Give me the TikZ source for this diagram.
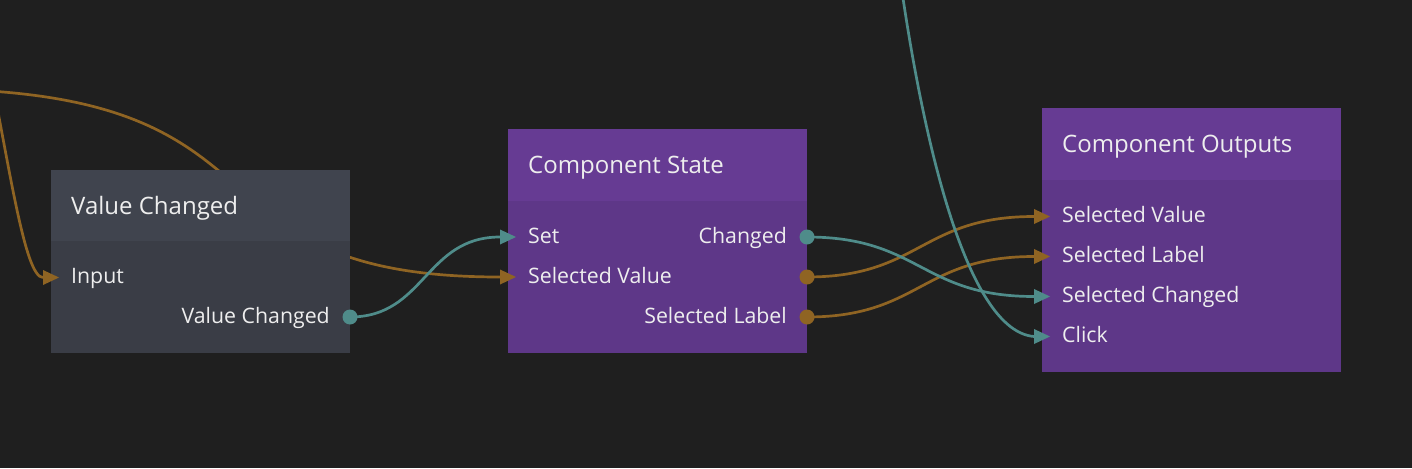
\documentclass[tikz,border=0pt]{standalone}
\usepackage{fontspec}
\setmainfont{Open Sans}
\usetikzlibrary{calc}
\definecolor{bgc}{HTML}{1F1F1F}
\definecolor{grayhead}{HTML}{40444E}
\definecolor{graybody}{HTML}{3A3D46}
\definecolor{purphead}{HTML}{663B93}
\definecolor{purpbody}{HTML}{5E3788}
\definecolor{orangec}{HTML}{8F6423}
\definecolor{tealc}{HTML}{4F8C8A}
\definecolor{txtc}{HTML}{EEEEEE}
\begin{document}
\begin{tikzpicture}[x=1pt,y=-1pt,
  wire/.style={line width=2.7pt},
  box/.style={inner sep=0pt, outer sep=0pt, anchor=north west, minimum width=299pt},
  title/.style={inner sep=0pt, anchor=base west, text=txtc, font=\fontsize{24}{29}\selectfont},
  lbl/.style={inner sep=0pt, anchor=base west, text=txtc, font=\fontsize{21.3}{25}\selectfont},
  rlbl/.style={lbl, anchor=base east},
  portdot/.style={circle, inner sep=0pt, minimum size=15pt},
  inarrow/.pic={\fill (-8,-7.5) -- (8,0) -- (-8,7.5) -- cycle;}
]
\fill[bgc] (0,0) rectangle (1412,468);
\useasboundingbox (0,0) rectangle (1412,468);

% port coordinates
\coordinate (src1) at (-75,89);
\coordinate (src2) at (-12,60);
\coordinate (src3) at (895,-60);
\coordinate (vcin) at (43,277.5);
\coordinate (vcout) at (350,317);
\coordinate (csset) at (500,237);
\coordinate (cssv) at (500,277);
\coordinate (cschanged) at (807,237);
\coordinate (cssvo) at (807,277);
\coordinate (cssl) at (807,317);
\coordinate (cosv) at (1034,216.5);
\coordinate (cosl) at (1034,256.5);
\coordinate (cosc) at (1034,296.5);
\coordinate (coclick) at (1034,336.5);

% connectors
\draw[wire, orangec] (src1) .. controls +(385,0) and +(-330,0) .. (cssv);
\draw[wire, orangec] (src2) .. controls +(22,110) and +(-18,0) .. (vcin);
\draw[wire, tealc] (vcout) .. controls +(75,0) and +(-75,0) .. (csset);
\draw[wire, orangec] (cssvo) .. controls +(113,0) and +(-113,0) .. (cosv);
\draw[wire, orangec] (cssl) .. controls +(113,0) and +(-113,0) .. (cosl);
\draw[wire, tealc] (cschanged) .. controls +(113,0) and +(-113,0) .. (cosc);
\draw[wire, tealc] (src3) .. controls +(20,160) and +(-74,-6) .. (coclick);

% Value Changed
\node[box, fill=graybody, minimum height=183pt] (vc) at (51,170) {};
\node[box, fill=grayhead, minimum height=71pt] (vch) at (51,170) {};
\node[title] (vct) at (71,214) {Value Changed};
\node[lbl] (vcl1) at (71,283) {Input};
\node[rlbl] (vcl2) at (330,323) {Value Changed};

% Component State
\node[box, fill=purpbody, minimum height=224pt] (cs) at (508,129) {};
\node[box, fill=purphead, minimum height=72pt] (csh) at (508,129) {};
\node[title] (cst) at (528,173) {Component State};
\node[lbl] (csl1) at (528,243) {Set};
\node[lbl] (csl2) at (528,283) {Selected Value};
\node[rlbl] (csl3) at (787,243) {Changed};
\node[rlbl] (csl4) at (787,323) {Selected Label};

% Component Outputs
\node[box, fill=purpbody, minimum height=264pt] (co) at (1042,108) {};
\node[box, fill=purphead, minimum height=72pt] (coh) at (1042,108) {};
\node[title] (cot) at (1062,152.5) {Component Outputs};
\node[lbl] (col1) at (1062,222.5) {Selected Value};
\node[lbl] (col2) at (1062,262.5) {Selected Label};
\node[lbl] (col3) at (1062,302.5) {Selected Changed};
\node[lbl] (col4) at (1062,342.5) {Click};

% arrows
\pic[color=orangec] at ($(vcin)+(8,0)$) {inarrow};
\pic[color=tealc] at ($(csset)+(8,0)$) {inarrow};
\pic[color=orangec] at ($(cssv)+(8,0)$) {inarrow};
\pic[color=orangec] at ($(cosv)+(8,0)$) {inarrow};
\pic[color=orangec] at ($(cosl)+(8,0)$) {inarrow};
\pic[color=tealc] at ($(cosc)+(8,0)$) {inarrow};
\pic[color=tealc] at ($(coclick)+(8,0)$) {inarrow};

% dots
\node[portdot, fill=tealc] (vcdot) at (vcout) {};
\node[portdot, fill=tealc] (csdot1) at (cschanged) {};
\node[portdot, fill=orangec] (csdot2) at (cssvo) {};
\node[portdot, fill=orangec] (csdot3) at (cssl) {};
\end{tikzpicture}
\end{document}
